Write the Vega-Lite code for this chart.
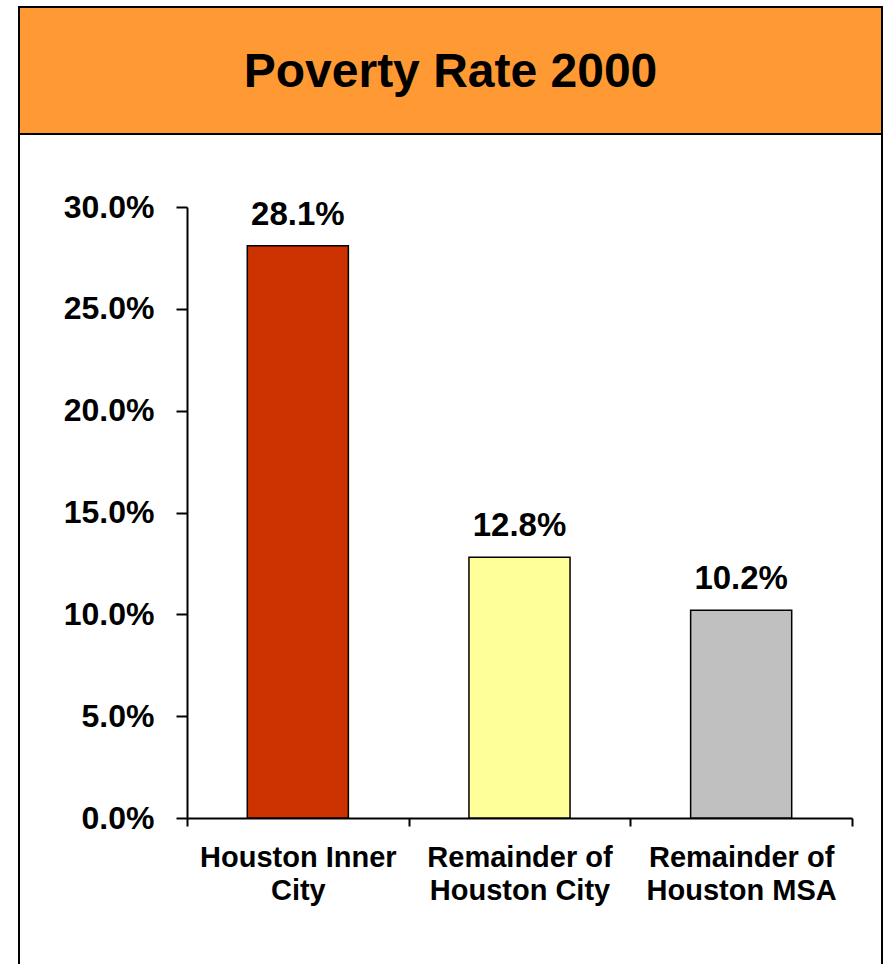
{
  "$schema": "https://vega.github.io/schema/vega-lite/v6.json",
  "padding": {"left": 18, "top": 6, "right": 0, "bottom": 0},
  "background": "white",
  "spacing": 0,
  "bounds": "flush",
  "config": {
    "font": "Liberation Sans",
    "concat": {"spacing": 0}
  },
  "datasets": {
    "rates": [
      {"region": "Houston Inner City", "rate": 0.281},
      {"region": "Remainder of Houston City", "rate": 0.128},
      {"region": "Remainder of Houston MSA", "rate": 0.102}
    ],
    "heading": [{"text": "Poverty Rate 2000"}]
  },
  "vconcat": [
    {
      "width": 863,
      "height": 127,
      "view": {"fill": "#FF9933", "stroke": "black", "strokeWidth": 2},
      "data": {"name": "heading"},
      "mark": {"type": "text", "font": "Liberation Sans", "fontWeight": "bold", "fontSize": 48, "color": "black", "baseline": "middle", "align": "center", "dy": 2},
      "encoding": {"text": {"field": "text"}}
    },
    {
      "width": 863,
      "height": 840,
      "view": {"fill": "white", "stroke": "black", "strokeWidth": 2},
      "data": {"name": "rates"},
      "encoding": {
        "x": {
          "field": "region",
          "type": "nominal",
          "sort": null,
          "scale": {"range": [168, 833], "paddingInner": 0, "paddingOuter": 0},
          "axis": {
            "title": null,
            "orient": "bottom",
            "offset": -156,
            "labelAngle": 0,
            "tickBand": "extent",
            "tickSize": 8,
            "tickColor": "black",
            "tickWidth": 2,
            "domainColor": "black",
            "domainWidth": 2,
            "labelFont": "Liberation Sans",
            "labelFontWeight": "bold",
            "labelFontSize": 29,
            "labelColor": "black",
            "labelPadding": 17,
            "labelLineHeight": 33,
            "labelLimit": 0,
            "labelExpr": "split(replace(datum.label, regexp('(Inner|of) '), '$1|'), '|')"
          }
        },
        "y": {
          "field": "rate",
          "type": "quantitative",
          "scale": {"domain": [0, 0.3], "range": [684, 73], "nice": false},
          "axis": {
            "title": null,
            "orient": "left",
            "offset": -168,
            "values": [0, 0.05, 0.1, 0.15, 0.2, 0.25, 0.3],
            "format": ".1%",
            "grid": false,
            "tickSize": 11,
            "tickColor": "black",
            "tickWidth": 2,
            "domainColor": "black",
            "domainWidth": 2,
            "labelFont": "Liberation Sans",
            "labelFontWeight": "bold",
            "labelFontSize": 32,
            "labelColor": "black",
            "labelPadding": 22
          }
        }
      },
      "layer": [
        {
          "mark": {"type": "bar", "width": {"band": 0.456}, "stroke": "black", "strokeWidth": 1.5},
          "encoding": {
            "color": {
              "field": "region",
              "type": "nominal",
              "scale": {
                "domain": ["Houston Inner City", "Remainder of Houston City", "Remainder of Houston MSA"],
                "range": ["#CC3300", "#FFFF99", "#C0C0C0"]
              },
              "legend": null
            }
          }
        },
        {
          "mark": {"type": "text", "font": "Liberation Sans", "fontWeight": "bold", "fontSize": 33, "color": "black", "baseline": "alphabetic", "dy": -21},
          "encoding": {
            "text": {"field": "rate", "type": "quantitative", "format": ".1%"}
          }
        }
      ]
    }
  ]
}
